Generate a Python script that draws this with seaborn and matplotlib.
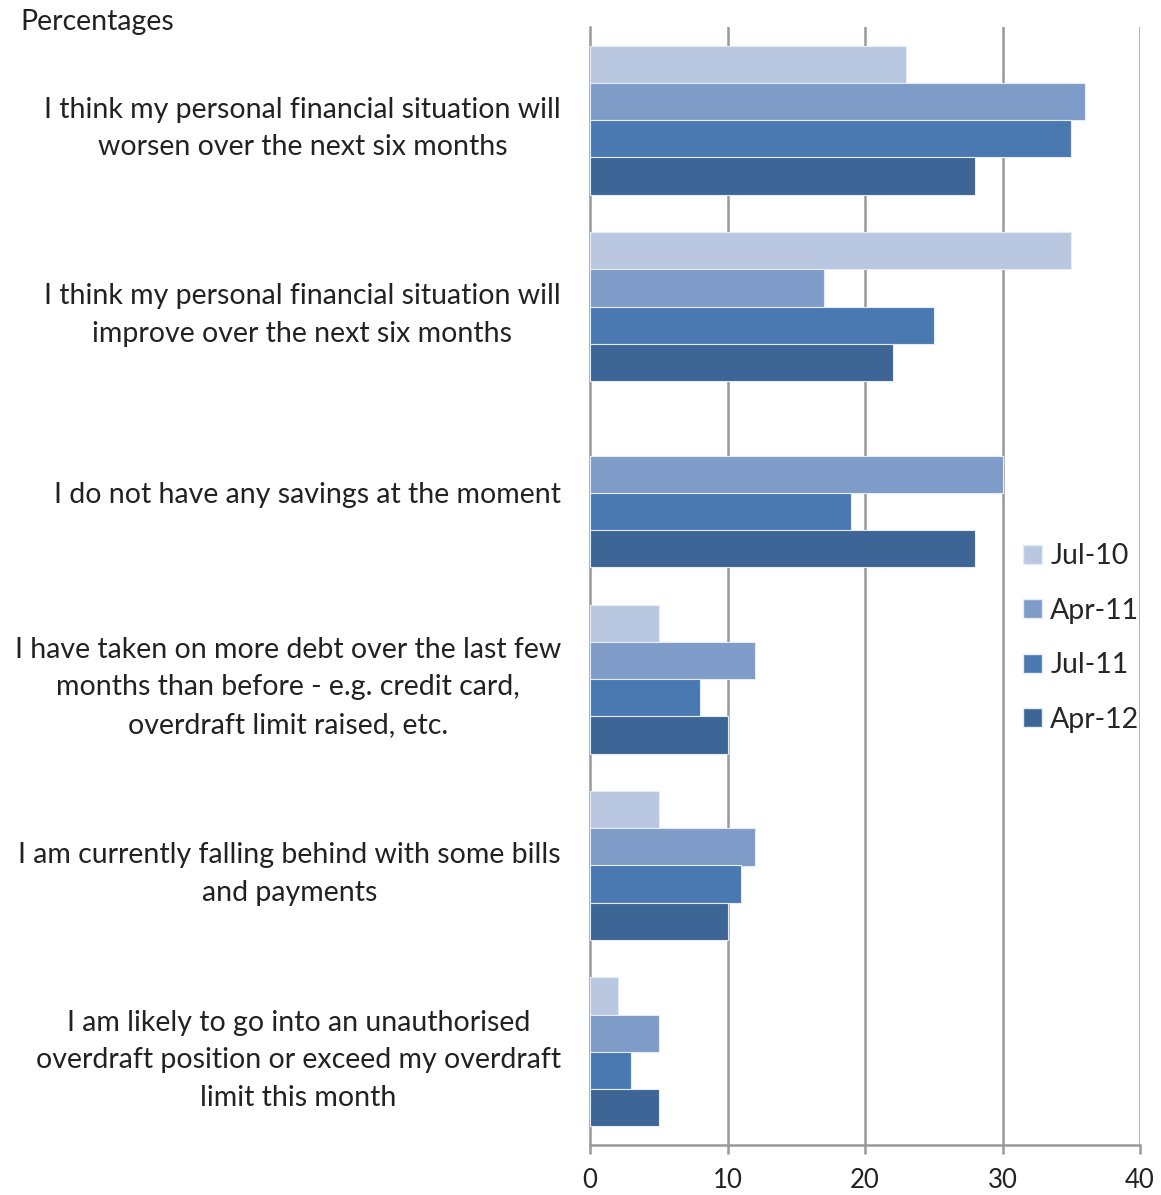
import numpy as np
import pandas as pd
import matplotlib
matplotlib.use("Agg")
import matplotlib.pyplot as plt
from matplotlib.patches import Patch
import seaborn as sns

categories = [
    "I think my personal financial situation will\nworsen over the next six months",
    "I think my personal financial situation will\nimprove over the next six months",
    "I do not have any savings at the moment",
    "I have taken on more debt over the last few\nmonths than before - e.g. credit card,\noverdraft limit raised, etc.",
    "I am currently falling behind with some bills\nand payments",
    "I am likely to go into an unauthorised\noverdraft position or exceed my overdraft\nlimit this month",
]
series = ["Jul-10", "Apr-11", "Jul-11", "Apr-12"]
jul10 = [23, 35, np.nan, 5, 5, 2]
apr11 = [36, 17, 30, 12, 12, 5]
jul11 = [35, 25, 19, 8, 11, 3]
apr12 = [28, 22, 28, 10, 10, 5]
colors = ["#b9c7e0", "#7f9cc8", "#4a78b0", "#3d6595"]
xticks = [0, 10, 20, 30, 40]

rows = []
for s, vals in zip(series, [jul10, apr11, jul11, apr12]):
    for c, v in zip(categories, vals):
        rows.append({"category": c, "series": s, "value": v})
df = pd.DataFrame(rows)

sns.set_theme(style="white")
plt.rcParams["font.family"] = ["Lato", "DejaVu Sans"]

fig = plt.figure(figsize=(11.61, 11.95), dpi=100)
ax = fig.add_axes([590/1161, 1-1145/1195, (1140-590)/1161, (1145-27)/1195])

df_plot = df.dropna()
sns.barplot(data=df_plot, y="category", x="value", hue="series",
            order=categories, hue_order=series, palette=colors, saturation=1,
            orient="h", width=0.8, edgecolor="#e6ecf5", linewidth=0.8,
            errorbar=None, ax=ax, legend=False, zorder=3)

ax.set_xlim(0, 40)
ax.set_xticks(xticks)
ax.set_xticklabels([str(t) for t in xticks])
ax.set_xlabel("")
ax.set_ylabel("")
grid_c = "#999999"
for t in xticks[1:]:
    ax.axvline(t, color=grid_c, lw=1.8, zorder=1)
for side in ["top", "right"]:
    ax.spines[side].set_visible(False)
for side in ["left", "bottom"]:
    ax.spines[side].set_color(grid_c)
    ax.spines[side].set_linewidth(1.8)
ax.tick_params(axis="x", direction="out", length=6.5, width=1.8, color=grid_c,
               pad=10, labelsize=18.5, labelcolor="#222222", bottom=True)
ax.tick_params(axis="y", length=0, pad=21, labelsize=20.5, labelcolor="#222222")
for t in ax.get_yticklabels():
    t.set_multialignment("center")
    t.set_linespacing(1.55)

handles = [Patch(facecolor=c, edgecolor="#e6ecf5", label=s) for s, c in zip(series, colors)]
fig.legend(handles=handles, loc="center left", bbox_to_anchor=(1009/1161, 1-638/1195),
           frameon=False, fontsize=20.5, handlelength=0.65, handleheight=0.65,
           handletextpad=0.3, labelspacing=1.0, borderpad=0)

fig.text(20/1161, 1-22/1195, "Percentages", fontsize=20.5, color="#222222",
         ha="left", va="center")

fig.savefig("out.png", dpi=100, facecolor="white")
